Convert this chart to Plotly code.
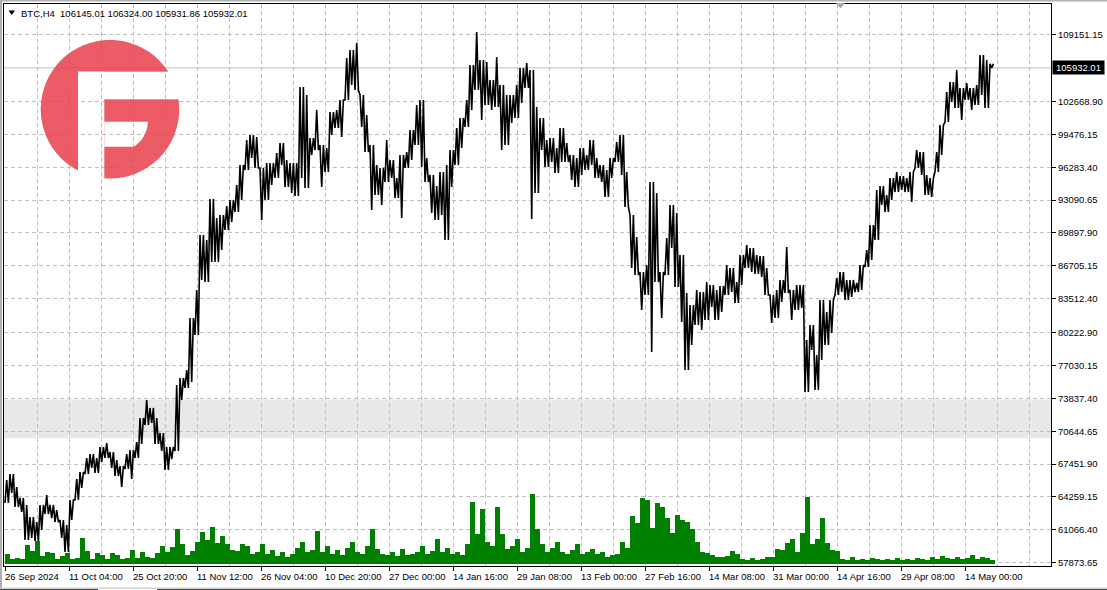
import base64
import plotly.graph_objects as go

# ---------------- data ----------------
SAMPLE_STEP = 5  # H4 bars represented by one sample

price_high = [
    65900, 66490, 65220, 64160, 63480, 62310, 61820, 63480, 64450, 63480,
    62990, 62020, 61530, 63960, 66000, 66680, 68040, 68430, 68040, 69110,
    69500, 68620, 67850, 67260, 68430, 68820, 69590, 71930, 73670, 72900,
    71930, 70470, 69110, 69110, 75130, 75810, 76590, 81640, 84360, 89700,
    89210, 93190, 91350, 91640, 92510, 93100, 94550, 96500, 98920, 99410,
    99220, 96210, 96690, 96690, 97660, 98630, 96980, 96690, 96690, 104070,
    103300, 99120, 101840, 98440, 98150, 101640, 101840, 102810, 106890, 107670,
    108350, 103300, 101350, 98440, 96500, 96210, 98920, 96980, 95230, 97470,
    97760, 99900, 102320, 102810, 97180, 95530, 94460, 95820, 96500, 97950,
    100090, 101060, 102810, 106210, 109410, 106690, 106500, 104750, 106990, 104270,
    103300, 103300, 104270, 105920, 106400, 105720, 102130, 101060, 98920, 99120,
    98150, 100090, 98630, 97470, 97180, 98150, 97470, 98920, 97180, 96500,
    96010, 97180, 98730, 99410, 95820, 91640, 89500, 86100, 86780, 94850,
    93780, 86100, 89410, 92610, 91830, 87760, 84070, 82900, 84360, 84160,
    85130, 84840, 84360, 84750, 86780, 86490, 85130, 87760, 88730, 88440,
    87760, 87660, 86490, 83870, 84360, 85330, 88530, 84360, 84840, 84840,
    79500, 80960, 78040, 83390, 82220, 83390, 85520, 86100, 85330, 85330,
    85040, 86780, 88240, 90670, 94070, 94460, 93580, 95230, 95820, 95430,
    95230, 95820, 97950, 97760, 95530, 95230, 97760, 100380, 103590, 104560,
    105720, 103970, 104460, 103970, 104270, 107180, 106690, 106324,
]

price_low = [
    63670, 64640, 63280, 62800, 60080, 60270, 59980, 61050, 62600, 62210,
    61820, 60270, 58910, 62020, 63960, 65130, 66490, 67070, 66580, 67650,
    68040, 67070, 66290, 65220, 66970, 66000, 68040, 69400, 71250, 71440,
    69400, 68720, 66880, 67940, 68720, 73670, 74840, 75420, 79990, 85330,
    85130, 87080, 87080, 88240, 90180, 90960, 91930, 93100, 96010, 97180,
    96210, 91160, 93100, 94550, 95230, 96500, 94360, 93780, 93490, 95230,
    94260, 97470, 97950, 94360, 95820, 99410, 100090, 99220, 102810, 104270,
    103780, 100190, 97760, 92130, 93580, 92610, 94850, 95230, 93290, 91350,
    96210, 96980, 98440, 96300, 94850, 91830, 91160, 91640, 89210, 94360,
    96500, 98150, 100190, 101840, 103780, 100870, 102320, 101840, 102130, 97950,
    98440, 100580, 101060, 102520, 103970, 91250, 93780, 97950, 96300, 96790,
    95720, 96790, 96790, 95040, 94360, 95530, 96010, 96500, 95230, 94850,
    93390, 95230, 96790, 95530, 92420, 86490, 85810, 82410, 83870, 78340,
    85130, 81640, 85810, 88440, 84650, 81250, 76590, 79020, 80960, 80470,
    81440, 82710, 81440, 82220, 83870, 84160, 83090, 84840, 86490, 86100,
    85910, 85620, 83870, 81150, 81640, 83190, 84070, 81440, 82410, 82610,
    74450, 78530, 74640, 77560, 79020, 80180, 83870, 84160, 83390, 83680,
    84160, 84360, 86590, 87270, 89210, 92610, 91930, 93100, 93870, 94070,
    93870, 92900, 96210, 95530, 93580, 93390, 95820, 97470, 100670, 102620,
    102030, 100870, 102810, 101840, 102320, 103300, 102030, 105931.86,
]

tick_volume = [
    1000, 500, 600, 500, 1900, 1300, 2300, 800, 1200, 1100,
    500, 800, 1100, 500, 600, 2600, 1300, 500, 1100, 900,
    500, 1100, 900, 500, 600, 1400, 600, 1200, 700, 600,
    1100, 1800, 1200, 1700, 3500, 2000, 900, 1300, 2200, 3200,
    2400, 3700, 2100, 2800, 2000, 1400, 1300, 2000, 1800, 1000,
    1200, 2000, 1000, 1400, 800, 1200, 700, 1000, 1600, 2200,
    1200, 1400, 3300, 1200, 1800, 1000, 1400, 900, 1600, 2200,
    1200, 1000, 1800, 3500, 1500, 1000, 900, 1200, 800, 1500,
    900, 1000, 1200, 1800, 1000, 1300, 2500, 1200, 1600, 1000,
    1200, 900, 2000, 6200, 3000, 5500, 2200, 1800, 5700, 3000,
    1500, 1800, 2500, 1200, 1600, 7000, 3500, 2000, 1200, 1600,
    2200, 1200, 1000, 1400, 2000, 1000, 1200, 1500, 1000, 1200,
    700, 900, 1000, 2200, 1600, 4800, 4100, 6600, 6400, 3600,
    6100, 5700, 4600, 3100, 4900, 4400, 4200, 3500, 2200, 1200,
    1100, 900, 700, 700, 800, 1300, 1000, 500, 400, 600,
    400, 500, 700, 700, 1500, 1400, 2100, 2500, 1200, 3100,
    6700, 2000, 2500, 4600, 2100, 1400, 1300, 500, 400, 700,
    400, 500, 400, 600, 500, 400, 500, 400, 600, 400,
    500, 400, 600, 500, 400, 700, 500, 800, 600, 500,
    700, 500, 600, 900, 500, 700, 600, 400,
]

x_tick_bars = [0, 64, 128, 192, 256, 320, 384, 448, 512, 576, 640, 704, 768, 832, 896, 960]
x_tick_labels = ["26 Sep 2024", "11 Oct 04:00", "25 Oct 20:00", "11 Nov 12:00",
                 "26 Nov 04:00", "10 Dec 20:00", "27 Dec 00:00", "14 Jan 16:00",
                 "29 Jan 08:00", "13 Feb 00:00", "27 Feb 16:00", "14 Mar 08:00",
                 "31 Mar 00:00", "14 Apr 16:00", "29 Apr 08:00", "14 May 00:00"]
y_tick_labels = ["109151.15", "102668.90", "99476.15", "96283.40", "93090.65",
                 "89897.90", "86705.15", "83512.40", "80222.90", "77030.15",
                 "73837.40", "70644.65", "67451.90", "64259.15", "61066.40", "57873.65"]

last_price = 105932.01
header_text = "BTC,H4  106145.01 106324.00 105931.86 105932.01"
zone_low, zone_high = 69970, 73730

# ---------------- layout geometry ----------------
W, H = 1107, 590
ML, MR, MT, MB = 4, 56, 4, 24
PW, PH = W - ML - MR, H - MT - MB
FONT = "Liberation Sans, Arial, DejaVu Sans, sans-serif"
GRID = "#c0c0c0"
DASH = "4px,3px"


def px(x):
    return (x - ML) / PW


def py(y):
    return (H - MB - y) / PH


# price path: each sample drawn as a tight zigzag between its low and high
xs, ys = [], []
offs = [0, 1.7, 3.4]
for k, (h, l) in enumerate(zip(price_high, price_low)):
    x0 = k * SAMPLE_STEP
    seq = [l, h, l] if k % 2 == 0 else [h, l, h]
    for o, v in zip(offs, seq):
        xs.append(x0 + o)
        ys.append(v)

vol_x = [k * SAMPLE_STEP + 2 for k in range(len(tick_volume))]

fig = go.Figure()
fig.add_trace(go.Bar(x=vol_x, y=tick_volume, width=5, yaxis="y2",
                     marker=dict(color="#008000", line=dict(width=0)),
                     hoverinfo="skip", showlegend=False))
fig.add_trace(go.Scatter(x=xs, y=ys, mode="lines",
                         line=dict(color="#000000", width=1.6),
                         hoverinfo="skip", showlegend=False))

axis_common = dict(showline=True, linecolor="#000000", linewidth=1, mirror=True,
                   showgrid=True, gridcolor=GRID, gridwidth=1, griddash=DASH,
                   zeroline=False, ticks="outside", ticklen=4, tickcolor="#000000",
                   tickfont=dict(family=FONT, size=9.5, color="#000000"))

fig.update_layout(
    width=W, height=H,
    margin=dict(l=ML, r=MR, t=MT, b=MB, autoexpand=False),
    paper_bgcolor="#ffffff", plot_bgcolor="#ffffff",
    bargap=0, showlegend=False,
    xaxis=dict(range=[-1, PW - 1], tickmode="array", tickvals=x_tick_bars,
               showticklabels=False,
               minor=dict(tickmode="linear", tick0=0, dtick=32, showgrid=True,
                          gridcolor=GRID, griddash=DASH, gridwidth=1, ticks=""),
               **axis_common),
    yaxis=dict(range=[57551, 112133], side="right", tickmode="array",
               tickvals=[float(v) for v in y_tick_labels], ticktext=y_tick_labels,
               **axis_common),
    yaxis2=dict(overlaying="y", range=[-170, 56030], visible=False),
)

shapes = []
# support zone band
shapes.append(dict(type="rect", xref="paper", x0=0, x1=1, yref="y", y0=zone_low, y1=zone_high,
                   fillcolor="#e8e8e8", line=dict(width=0), layer="below"))
# current price line
shapes.append(dict(type="line", xref="paper", x0=0, x1=1, yref="y", y0=last_price, y1=last_price,
                   line=dict(color="#c0c0c0", width=1), layer="between"))
# header triangle
shapes.append(dict(type="path", xref="paper", yref="paper",
                   path=f"M{px(8.5)},{py(10.5)} L{px(15)},{py(10.5)} L{px(11.75)},{py(15)} Z",
                   fillcolor="#000000", line=dict(width=0), layer="above"))
# chart shift marker at top
shapes.append(dict(type="path", xref="paper", yref="paper",
                   path=f"M{px(836)},{py(3)} L{px(845)},{py(3)} L{px(840.5)},{py(8.5)} Z",
                   fillcolor="#a8a8a8", line=dict(width=0), layer="above"))
# window frame strips
shapes.append(dict(type="rect", xref="paper", yref="paper", x0=px(0), x1=px(W), y0=py(0), y1=py(1.5),
                   fillcolor="#b0b0b0", line=dict(width=0), layer="above"))
shapes.append(dict(type="rect", xref="paper", yref="paper", x0=px(0), x1=px(2), y0=py(0), y1=py(H),
                   fillcolor="#b0b0b0", line=dict(width=0), layer="above"))
shapes.append(dict(type="rect", xref="paper", yref="paper", x0=px(0), x1=px(W), y0=py(587.5), y1=py(588.7),
                   fillcolor="#c8c8c8", line=dict(width=0), layer="above"))
shapes.append(dict(type="rect", xref="paper", yref="paper", x0=px(0), x1=px(98), y0=py(589), y1=py(590),
                   fillcolor="#404040", line=dict(width=0), layer="above"))
shapes.append(dict(type="rect", xref="paper", yref="paper", x0=px(157), x1=px(W), y0=py(589), y1=py(590),
                   fillcolor="#404040", line=dict(width=0), layer="above"))
fig.update_layout(shapes=shapes)

annotations = []
for pos, lab in zip(x_tick_bars, x_tick_labels):
    annotations.append(dict(x=pos, xref="x", y=0, yref="paper", text=lab, showarrow=False,
                            xanchor="left", yanchor="middle", yshift=-10, xshift=-2,
                            font=dict(family=FONT, size=9.5, color="#000000")))
annotations.append(dict(x=px(19), xref="paper", y=py(13), yref="paper", text=header_text,
                        showarrow=False, xanchor="left", yanchor="middle",
                        font=dict(family=FONT, size=9.5, color="#000000")))
annotations.append(dict(x=1, xref="paper", y=last_price, yref="y", text=f"{last_price:.2f}",
                        showarrow=False, xanchor="left", yanchor="middle", xshift=1,
                        bgcolor="#000000", borderpad=1, width=49,
                        font=dict(family=FONT, size=9.5, color="#ffffff")))
fig.update_layout(annotations=annotations)

# logo (semi-transparent red disc with an "F" cut out)
logo_svg = (
    '<svg xmlns="http://www.w3.org/2000/svg" width="140" height="140" viewBox="0 0 140 140">'
    '<defs><mask id="m"><rect width="140" height="140" fill="white"/>'
    '<rect x="38" y="31.7" width="102" height="27.6" fill="black"/>'
    '<rect x="38" y="31.7" width="26.3" height="108.3" fill="black"/>'
    '<path d="M64.3,81.7 L108,81.7 Q106.5,99 93.5,106.7 L64.3,106.7 Z" fill="black"/>'
    '</mask></defs>'
    '<circle cx="70" cy="69.2" r="69.3" fill="#e8404c" mask="url(#m)"/></svg>'
)
logo_src = "data:image/svg+xml;base64," + base64.b64encode(logo_svg.encode()).decode()
fig.add_layout_image(dict(source=logo_src, xref="paper", yref="paper",
                          x=px(40), y=py(40), sizex=140 / PW, sizey=140 / PH,
                          xanchor="left", yanchor="top", sizing="stretch",
                          opacity=0.85, layer="above"))

fig.write_html("out.html", config={"displayModeBar": False},
               post_script="document.body.style.margin='0px';document.body.style.overflow='hidden';")
